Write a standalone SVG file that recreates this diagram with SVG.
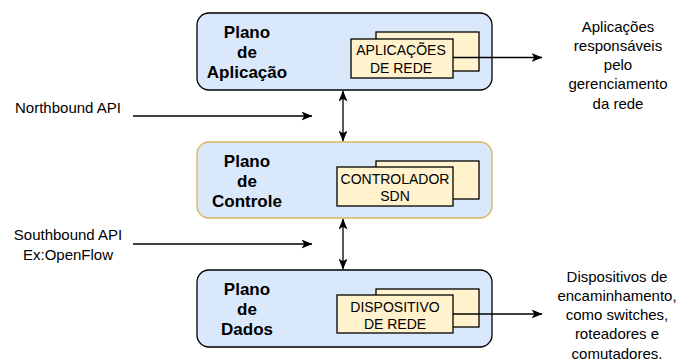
<svg xmlns="http://www.w3.org/2000/svg" width="681" height="363" viewBox="0 0 681 363">
  <style>
    .plane { fill: #dae8fc; stroke: #000000; stroke-width: 1.3; }
    .plane.ctrl { stroke: #d6b656; }
    .card { fill: #fff2cc; stroke: #000000; stroke-width: 1.3; }
    .title { font-family: "Liberation Sans", Arial, sans-serif; font-size: 17px; font-weight: bold; fill: #000; text-anchor: middle; }
    .inner { font-family: "Liberation Sans", Arial, sans-serif; font-size: 14px; fill: #000; text-anchor: middle; }
    .label { font-family: "Liberation Sans", Arial, sans-serif; font-size: 15px; fill: #000; text-anchor: middle; }
    .wire { fill: none; stroke: #000; stroke-width: 1.3; }
  </style>
  <defs>
    <marker id="head" viewBox="0 0 11 9" refX="10.5" refY="4.5" markerWidth="11" markerHeight="9" markerUnits="userSpaceOnUse" orient="auto-start-reverse">
      <path d="M0,0 L11,4.5 L0,9 L2.8,4.5 Z" fill="#000"/>
    </marker>
  </defs>

  <!-- Application plane -->
  <g id="plano-aplicacao">
    <rect class="plane" x="197" y="13" width="295" height="77" rx="12"/>
    <text class="title" x="247" y="38">Plano</text>
    <text class="title" x="247" y="58">de</text>
    <text class="title" x="247" y="78">Aplicação</text>
    <rect class="card" x="376" y="32" width="103" height="39"/>
    <rect class="card" x="351" y="39" width="102" height="39"/>
    <text class="inner" x="401" y="55">APLICAÇÕES</text>
    <text class="inner" x="401" y="72.5">DE REDE</text>
  </g>

  <!-- Control plane -->
  <g id="plano-controle">
    <rect class="plane ctrl" x="197" y="142" width="295" height="76" rx="12"/>
    <text class="title" x="247" y="167">Plano</text>
    <text class="title" x="247" y="187">de</text>
    <text class="title" x="247" y="207">Controle</text>
    <rect class="card" x="376" y="161" width="103" height="38"/>
    <rect class="card" x="337" y="167" width="116" height="39"/>
    <text class="inner" x="395" y="183.5">CONTROLADOR</text>
    <text class="inner" x="395" y="200.5">SDN</text>
  </g>

  <!-- Data plane -->
  <g id="plano-dados">
    <rect class="plane" x="197" y="270" width="295" height="77" rx="12"/>
    <text class="title" x="247" y="295">Plano</text>
    <text class="title" x="247" y="315">de</text>
    <text class="title" x="247" y="335">Dados</text>
    <rect class="card" x="376" y="289" width="103" height="38"/>
    <rect class="card" x="337" y="295" width="116" height="38"/>
    <text class="inner" x="395" y="311.5">DISPOSITIVO</text>
    <text class="inner" x="395" y="329">DE REDE</text>
  </g>

  <!-- Side labels -->
  <g id="northbound">
    <text class="label" x="68" y="113">Northbound API</text>
  </g>
  <g id="southbound">
    <text class="label" x="68" y="240">Southbound API</text>
    <text class="label" x="68" y="259.5">Ex:OpenFlow</text>
  </g>
  <g id="desc-aplicacoes">
    <text class="label" x="618" y="31.5">Aplicações</text>
    <text class="label" x="618" y="50.8">responsáveis</text>
    <text class="label" x="618" y="70">pelo</text>
    <text class="label" x="618" y="89.3">gerenciamento</text>
    <text class="label" x="618" y="108.6">da rede</text>
  </g>
  <g id="desc-dispositivos">
    <text class="label" x="617" y="281.5">Dispositivos de</text>
    <text class="label" x="617" y="300.8">encaminhamento,</text>
    <text class="label" x="617" y="320">como switches,</text>
    <text class="label" x="617" y="339.3">roteadores e</text>
    <text class="label" x="617" y="358.6">comutadores.</text>
  </g>

  <!-- Connectors -->
  <g id="connectors">
    <line class="wire" x1="453" y1="57.5" x2="542" y2="57.5" marker-end="url(#head)"/>
    <line class="wire" x1="453" y1="314" x2="542" y2="314" marker-end="url(#head)"/>
    <line class="wire" x1="133" y1="116" x2="312" y2="116" marker-end="url(#head)"/>
    <line class="wire" x1="133" y1="244" x2="312" y2="244" marker-end="url(#head)"/>
    <line class="wire" x1="343" y1="91" x2="343" y2="141" marker-start="url(#head)" marker-end="url(#head)"/>
    <line class="wire" x1="343" y1="219" x2="343" y2="269" marker-start="url(#head)" marker-end="url(#head)"/>
  </g>
</svg>
